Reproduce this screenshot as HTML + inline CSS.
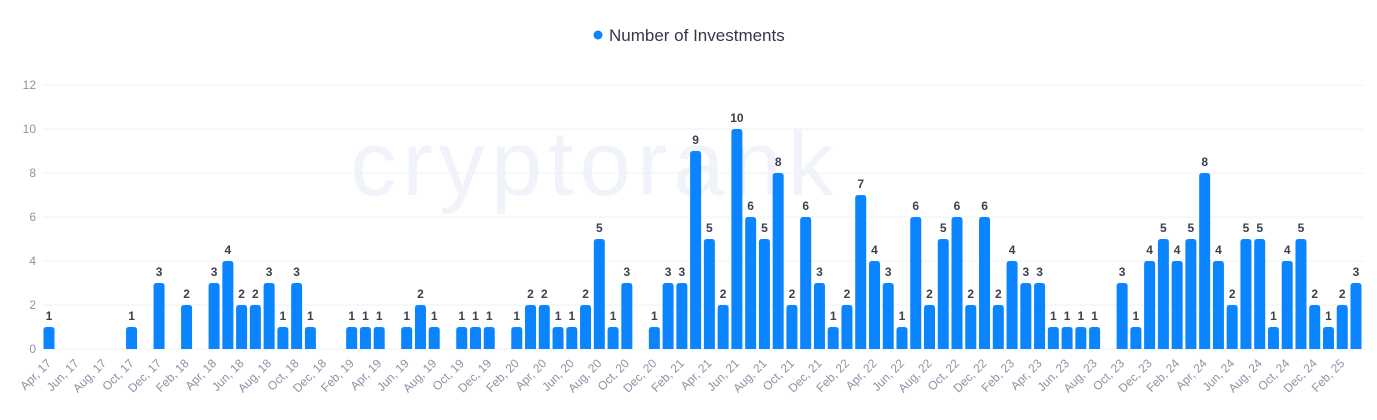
<!DOCTYPE html>
<html><head><meta charset="utf-8"><style>
html,body{margin:0;padding:0;background:#fff;}
svg{display:block;font-family:"Liberation Sans",sans-serif;}
</style></head><body>
<svg id="c" width="1377" height="420" viewBox="0 0 1377 420" xmlns="http://www.w3.org/2000/svg"></svg>
<script>
const s=document.getElementById('c');
let h='';
h+='<text x="595" y="195" font-size="92" fill="#f0f4fa" text-anchor="middle" letter-spacing="6">cryptorank</text>';
h+='<circle cx="598" cy="35" r="4.5" fill="#0a84ff"/><text x="609" y="41" font-size="17" fill="#333a46">Number of Investments</text>';
for(let v=0;v<=12;v+=2){const y=349-v*22;h+=`<line x1="43" x2="1364" y1="${y}" y2="${y}" stroke="#eef0f3" stroke-width="1"/>`;h+=`<text x="36" y="${y+4}" font-size="12" fill="#8a93a6" text-anchor="end">${v}</text>`;}
const d={0:1,6:1,8:3,10:2,12:3,13:4,14:2,15:2,16:3,17:1,18:3,19:1,22:1,23:1,24:1,26:1,27:2,28:1,30:1,31:1,32:1,34:1,35:2,36:2,37:1,38:1,39:2,40:5,41:1,42:3,44:1,45:3,46:3,47:9,48:5,49:2,50:10,51:6,52:5,53:8,54:2,55:6,56:3,57:1,58:2,59:7,60:4,61:3,62:1,63:6,64:2,65:5,66:6,67:2,68:6,69:2,70:4,71:3,72:3,73:1,74:1,75:1,76:1,78:3,79:1,80:4,81:5,82:4,83:5,84:8,85:4,86:2,87:5,88:5,89:1,90:4,91:5,92:2,93:1,94:2,95:3};
const step=(1356-49)/95;
for(const k in d){const v=d[k];const cx=49+k*step;const top=349-v*22;
h+=`<path d="M${cx-5.5} 349 V${top+3} Q${cx-5.5} ${top} ${cx-2.5} ${top} H${cx+2.5} Q${cx+5.5} ${top} ${cx+5.5} ${top+3} V349 Z" fill="#0a84ff"/>`;
h+=`<text x="${cx}" y="${top-7}" font-size="12" font-weight="bold" fill="#3a4150" text-anchor="middle">${v}</text>`;}
const m=['Jan','Feb','Mar','Apr','May','Jun','Jul','Aug','Sep','Oct','Nov','Dec'];
for(let i=0;i<96;i+=2){const mi=(3+i)%12;const yr=17+Math.floor((3+i)/12);const cx=49+i*step+3;
h+=`<text x="${cx}" y="364" font-size="12" fill="#8a93a6" text-anchor="end" transform="rotate(-45 ${cx} 364)">${m[mi]}, ${yr}</text>`;}
s.innerHTML=h;
</script>
</body></html>
